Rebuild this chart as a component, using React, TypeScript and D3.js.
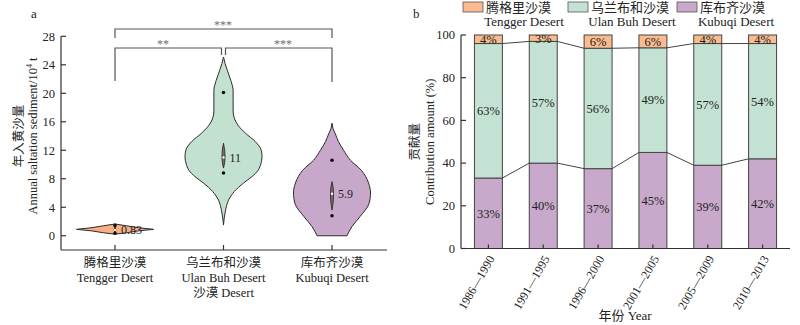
import React from 'react';
import * as d3 from 'd3';

// ---------- Panel a data ----------
const desertsCn = ['腾格里沙漠', '乌兰布和沙漠', '库布齐沙漠'];
const desertsEn = ['Tengger Desert', 'Ulan Buh Desert', 'Kubuqi Desert'];
const violinColors = ['#f6b183', '#c3e1d1', '#c7a8cb'];
const yTicksA = [0, 4, 8, 12, 16, 20, 24, 28];

// density profiles: [value, relative width]
const tenggerProfile: [number, number][] = [
  [1.65, 0], [1.4, 0.3], [1.12, 0.62], [0.9, 1], [0.68, 0.6], [0.42, 0.3], [0.22, 0],
];
const ulanProfile: [number, number][] = [
  [25.1, 0], [24.2, 0.04], [23.2, 0.1], [21.8, 0.19], [20.4, 0.25], [19.0, 0.25], [17.5, 0.25],
  [16.7, 0.27], [15.5, 0.38], [14.4, 0.57], [13.2, 0.83], [12.0, 0.98], [11.1, 1.0],
  [10.1, 0.97], [9.2, 0.9], [8.3, 0.74], [7.4, 0.52], [6.2, 0.28], [5.0, 0.13],
  [3.5, 0.05], [1.5, 0],
];
const kubuqiProfile: [number, number][] = [
  [15.8, 0], [15.0, 0.03], [14.4, 0.08], [13.2, 0.17], [12.0, 0.3], [10.6, 0.48],
  [9.2, 0.76], [7.4, 0.95], [6.0, 1.0], [4.5, 0.96], [2.7, 0.73], [1.3, 0.52], [0, 0.39],
];
const profiles = [tenggerProfile, ulanProfile, kubuqiProfile];
const medians = [0.83, 11, 5.9];
const iqr: [number, number][] = [[0.5, 1.3], [9.5, 13.0], [3.6, 7.6]];
const extremes: [number, number][] = [[0.35, 1.45], [8.8, 20.1], [2.8, 10.6]];

// ---------- Panel b data ----------
const periods = ['1986—1990', '1991—1995', '1996—2000', '2001—2005', '2005—2009', '2010—2013'];
const kubuqiShare = [33, 40, 37.4, 45, 39, 42];
const ulanShare = [63, 57, 56.4, 49, 57, 54];
const tenggerShare = [4, 3, 6.2, 6, 4, 4];
const yTicksB = [0, 20, 40, 60, 80, 100];
const legendCn = ['腾格里沙漠', '乌兰布和沙漠', '库布齐沙漠'];
const legendEn = ['Tengger Desert', 'Ulan Buh Desert', 'Kubuqi Desert'];
const barColors = { tengger: '#f9bb8f', ulan: '#c4e2d3', kubuqi: '#c8a9cb' };

const FONT = "'Liberation Serif', 'Times New Roman', 'Noto Sans CJK SC', serif";
const AXIS = '#333';

function PanelA() {
  const x = d3.scalePoint<string>().domain(desertsEn).range([115, 332]);
  const y = d3.scaleLinear().domain([-2, 28]).range([250, 36.3]);
  const w = d3.scaleLinear().domain([0, 1]).range([0, 38.5]);

  return (
    <g>
      <text x={31} y={18} fontSize={13}>a</text>
      {/* axes */}
      <line x1={61} x2={61} y1={y(28)} y2={y(-2)} stroke={AXIS} strokeWidth={1.2} />
      <line x1={61} x2={387} y1={y(-2)} y2={y(-2)} stroke={AXIS} strokeWidth={1.2} />
      {yTicksA.map((t) => (
        <g key={t}>
          <line x1={61} x2={66} y1={y(t)} y2={y(t)} stroke={AXIS} strokeWidth={1.2} />
          <text x={55} y={y(t)} dy="0.35em" textAnchor="end" fontSize={12.5}>{t}</text>
        </g>
      ))}
      {desertsEn.map((d) => (
        <line key={d} x1={x(d)} x2={x(d)} y1={y(-2)} y2={y(-2) - 5} stroke={AXIS} strokeWidth={1.2} />
      ))}
      {/* axis titles */}
      <text transform={`translate(23,${y(14)}) rotate(-90)`} textAnchor="middle" fontSize={12.5}>年入黄沙量</text>
      <text transform={`translate(37,${y(14)}) rotate(-90)`} textAnchor="middle" fontSize={12.5}>
        Annual saltation sediment/10<tspan fontSize={8} dy={-5}>4</tspan><tspan dy={5}> t</tspan>
      </text>
      {/* x labels */}
      {desertsEn.map((d, i) => (
        <g key={d} fontSize={12.5} textAnchor="middle">
          <text x={x(d)} y={267}>{desertsCn[i]}</text>
          <text x={x(d)} y={282}>{d}</text>
        </g>
      ))}
      <text x={x(desertsEn[1])} y={297} textAnchor="middle" fontSize={12.5}>沙漠 Desert</text>

      {/* violins */}
      {profiles.map((prof, i) => {
        const cx = x(desertsEn[i]) as number;
        const area = d3
          .area<[number, number]>()
          .y((p) => y(p[0]))
          .x0((p) => cx - w(p[1]))
          .x1((p) => cx + w(p[1]))
          .curve(i === 0 ? d3.curveLinear : d3.curveMonotoneY);
        const [q1, q3] = iqr[i];
        const med = medians[i];
        const bw = i === 0 ? 1.6 : 3.2;
        const spindle = `M${cx},${y(q3)} Q${cx + bw},${y(med)} ${cx},${y(q1)} Q${cx - bw},${y(med)} ${cx},${y(q3)} Z`;
        return (
          <g key={i}>
            <path d={area(prof) || ''} fill={violinColors[i]} stroke="#2b2b2b" strokeWidth={1} />
            <path d={spindle} fill={i === 0 ? '#222' : '#806868'} stroke="#222" strokeWidth={0.8} />
            {extremes[i].map((v, k) => (
              <circle key={k} cx={cx} cy={y(v)} r={1.8} fill="#111" />
            ))}
            <circle cx={cx} cy={y(med)} r={1.2} fill="#fff" />
            <text x={cx + 6} y={y(med)} dy="0.35em" fontSize={12}>{med}</text>
          </g>
        );
      })}

      {/* significance brackets */}
      <g stroke="#555" strokeWidth={1.2} fill="none">
        <path d={`M${x(desertsEn[0])},38 V29 H${x(desertsEn[2])} V38`} />
        <path d={`M${x(desertsEn[0])},81 V48 H${(x(desertsEn[1]) as number) - 2} V55`} />
        <path d={`M${(x(desertsEn[1]) as number) + 2},55 V48 H${x(desertsEn[2])} V82`} />
      </g>
      <text x={223} y={29} fill="#6e6e6e" fontSize={12} textAnchor="middle">***</text>
      <text x={163} y={48} fill="#6e6e6e" fontSize={12} textAnchor="middle">**</text>
      <text x={283} y={48} fill="#6e6e6e" fontSize={12} textAnchor="middle">***</text>
    </g>
  );
}

function PanelB() {
  const x = d3.scaleBand<string>().domain(periods).range([461, 790]).paddingInner(0.49).paddingOuter(0.245);
  const y = d3.scaleLinear().domain([0, 100]).range([248.5, 35]);
  const rows = periods.map((p, i) => ({ period: p, kubuqi: kubuqiShare[i], ulan: ulanShare[i], tengger: tenggerShare[i] }));
  const keys = ['kubuqi', 'ulan', 'tengger'] as const;
  const stack = d3.stack<any>().keys(keys as any)(rows);
  const bw = x.bandwidth();
  const fmt = d3.format('.0f');

  return (
    <g>
      <text x={413} y={18} fontSize={13}>b</text>
      {/* legend */}
      {(['tengger', 'ulan', 'kubuqi'] as const).map((k, i) => {
        const lx = [463, 568, 677][i];
        const cxEn = [524, 632, 736][i];
        return (
          <g key={k}>
            <rect x={lx} y={2} width={20} height={10} fill={barColors[k]} stroke="#555" strokeWidth={0.8} />
            <text x={lx + 23} y={12} fontSize={13}>{legendCn[i]}</text>
            <text x={cxEn} y={26} fontSize={13} textAnchor="middle">{legendEn[i]}</text>
          </g>
        );
      })}
      {/* bars */}
      {stack.map((layer) => (
        <g key={layer.key}>
          {layer.map((d, i) => {
            const top = layer.key === 'tengger' ? 100 : d[1];
            const val = d[1] - d[0];
            return (
              <g key={i}>
                <rect
                  x={x(periods[i])}
                  y={y(top)}
                  width={bw}
                  height={y(d[0]) - y(top)}
                  fill={(barColors as any)[layer.key]}
                  stroke="#444"
                  strokeWidth={1}
                />
                <text
                  x={(x(periods[i]) as number) + bw / 2}
                  y={(y(d[0]) + y(top)) / 2}
                  dy="0.35em"
                  textAnchor="middle"
                  fontSize={12.5}
                >
                  {fmt(val)}%
                </text>
              </g>
            );
          })}
        </g>
      ))}
      {/* connector lines */}
      {stack.slice(0, 2).map((layer) => (
        <g key={'c' + layer.key}>
          {layer.slice(0, -1).map((d, i) => (
            <line
              key={i}
              x1={(x(periods[i]) as number) + bw}
              x2={x(periods[i + 1])}
              y1={y(d[1])}
              y2={y(layer[i + 1][1])}
              stroke="#444"
              strokeWidth={1}
            />
          ))}
        </g>
      ))}
      {/* axes */}
      <line x1={461} x2={461} y1={y(100)} y2={y(0)} stroke={AXIS} strokeWidth={1.2} />
      <line x1={461} x2={790} y1={y(0)} y2={y(0)} stroke={AXIS} strokeWidth={1.2} />
      {yTicksB.map((t) => (
        <g key={t}>
          <line x1={461} x2={466} y1={y(t)} y2={y(t)} stroke={AXIS} strokeWidth={1.2} />
          <text x={455} y={y(t)} dy="0.35em" textAnchor="end" fontSize={12.5}>{t}</text>
        </g>
      ))}
      {periods.map((p) => {
        const cx = (x(p) as number) + bw / 2;
        return (
          <g key={p}>
            <line x1={cx} x2={cx} y1={y(0)} y2={y(0) - 4} stroke={AXIS} strokeWidth={1.2} />
            <text transform={`translate(${cx + 3},${y(0) + 8}) rotate(-60)`} textAnchor="end" dy="0.35em" fontSize={12}>
              {p}
            </text>
          </g>
        );
      })}
      <text x={625} y={320} textAnchor="middle" fontSize={13}>年份 Year</text>
      <text transform={`translate(419,${y(50)}) rotate(-90)`} textAnchor="middle" fontSize={12.5}>贡献量</text>
      <text transform={`translate(434,${y(50)}) rotate(-90)`} textAnchor="middle" fontSize={12.5}>Contribution amount (%)</text>
    </g>
  );
}

export default function App() {
  return (
    <svg
      width={800}
      height={325}
      style={{ position: 'absolute', left: 0, top: 0, background: '#fff', fontFamily: FONT }}
      fill="#222"
    >
      <PanelA />
      <PanelB />
    </svg>
  );
}
